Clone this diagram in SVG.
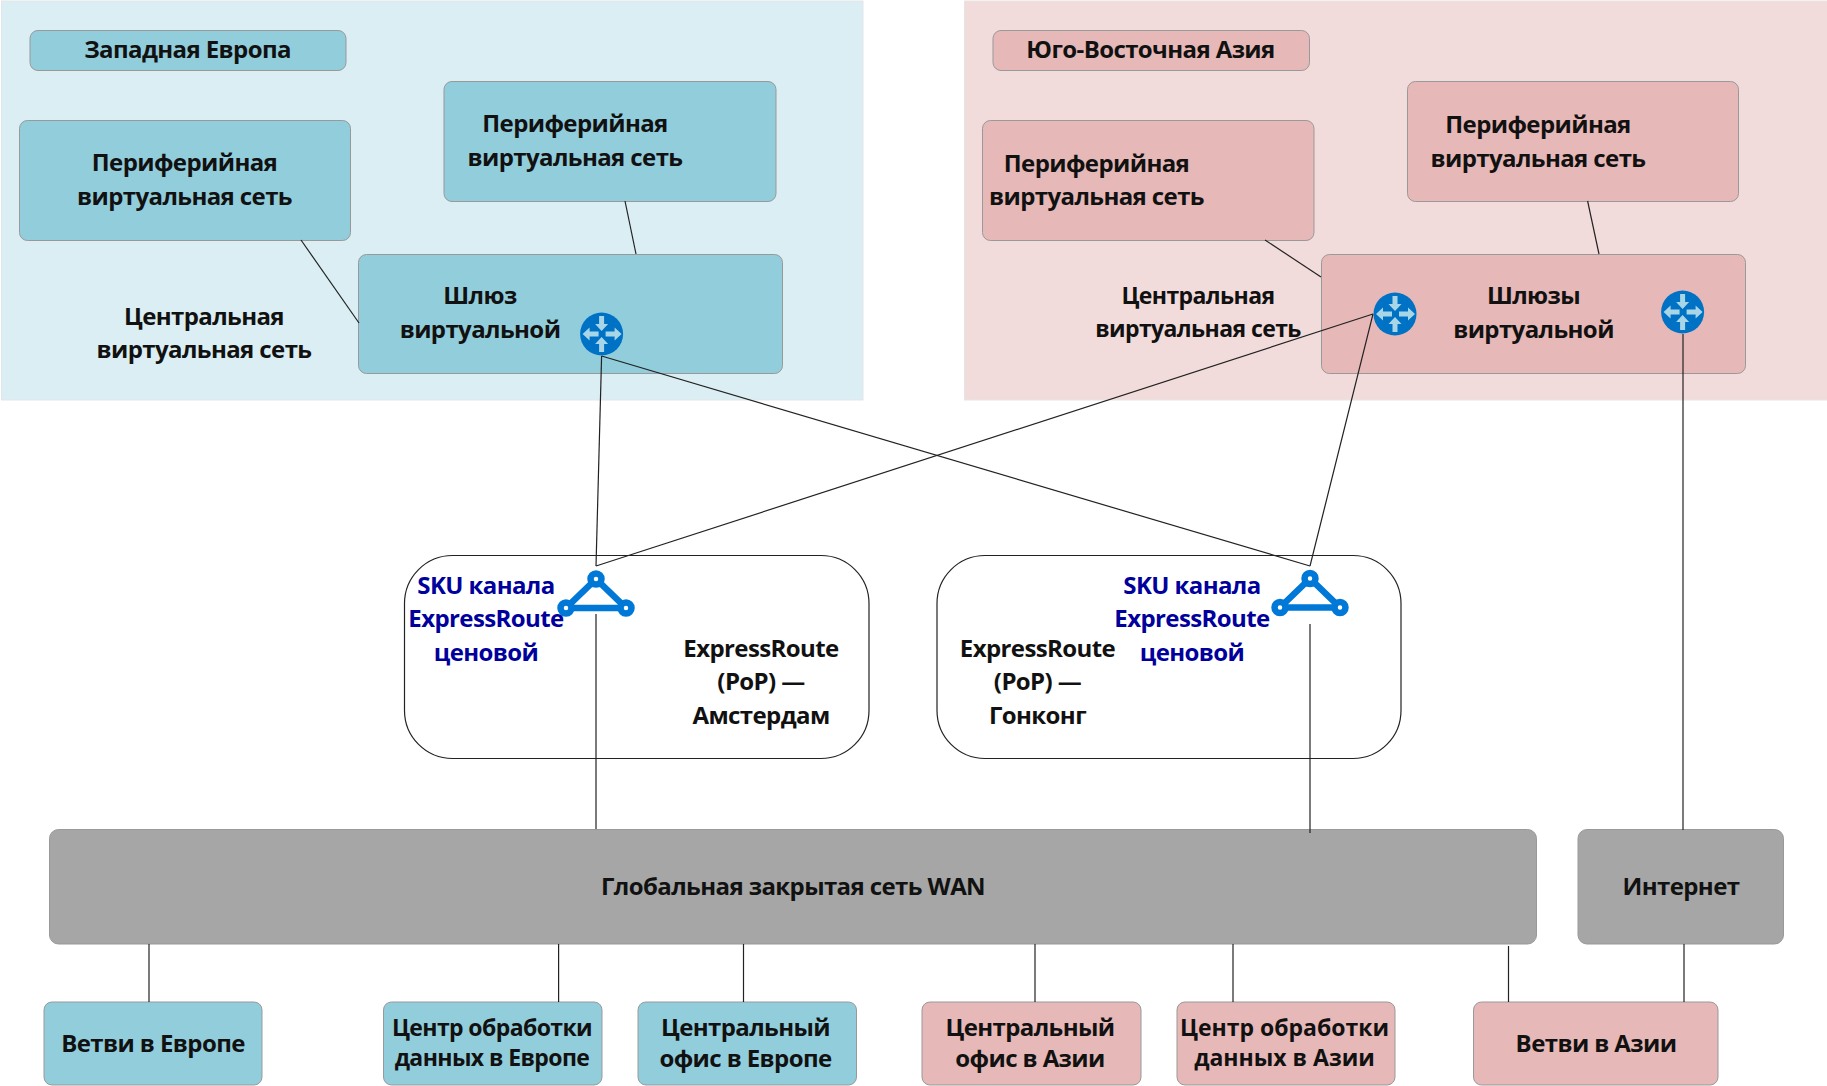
<svg xmlns="http://www.w3.org/2000/svg" width="1827" height="1086" viewBox="0 0 1827 1086">
<style>
text{font-family:"Open Sans","Noto Sans","Liberation Sans",sans-serif;font-weight:700;font-size:24px;letter-spacing:-.6px;fill:#111;text-anchor:middle}
.sm{font-size:23px}
.wide{font-size:23px;letter-spacing:0}
.blue{fill:#00009c;letter-spacing:-.6px}
.panelW{fill:#daeef3;stroke:#e3e6e8;stroke-width:1}
.panelA{fill:#f2dcdb;stroke:#e9e4e4;stroke-width:1}
.t,.p,.g{stroke:#999;stroke-width:1}
.t{fill:#92cddc}
.p{fill:#e6b8b7}
.g{fill:#a6a6a6}
.er{fill:#fff;stroke:#222;stroke-width:1.2}
#conn line{stroke:#222;stroke-width:1.2}
</style>
<defs>
<g id="router">
<circle r="21.5" fill="#0072c6"/>
<path fill="#a9d6e6" d="M-2.500-18h5v8h4L0-3-6.500-10h4zM-2.500 18h5V10h4L0 3-6.500 10h4zM-3-2.500v5H-12v4L-19 0-12-6.500v4zM4-2.500v5h9v4L20 0 13-6.500v4z"/>
</g>
<g id="er-icon" fill="none" stroke="#0078d7">
<path stroke-width="6.500" d="M0 0L-30 29H30Z"/>
<circle r="5.500" fill="#fff" stroke-width="6.500"/>
<circle cx="-30" cy="29" r="5.500" fill="#fff" stroke-width="6.500"/>
<circle cx="30" cy="29" r="5.500" fill="#fff" stroke-width="6.500"/>
</g>
</defs>
<rect class="panelW" x="1.500" y="1" width="861.500" height="399"/>
<rect class="panelA" x="964.500" y="1" width="863" height="399"/>

<g id="title-west"><rect class="t" x="30" y="30.500" width="316" height="40" rx="8"/><text x="187.500" y="58">Западная Европа</text></g>
<g id="spoke-west-1"><rect class="t" x="19.500" y="120.500" width="331" height="120" rx="8"/><text x="184.500" y="171">Периферийная</text><text x="184.500" y="205">виртуальная сеть</text></g>
<g id="spoke-west-2"><rect class="t" x="444" y="81.500" width="332" height="120" rx="8"/><text x="575" y="132">Периферийная</text><text x="575" y="166">виртуальная сеть</text></g>
<g id="hub-west"><rect class="t" x="358.500" y="254.500" width="424" height="119" rx="8"/><text x="480" y="304">Шлюз</text><text x="480" y="338">виртуальной</text><use href="#router" x="601.600" y="334"/></g>
<g id="hub-west-label"><text x="204" y="325">Центральная</text><text x="204" y="358">виртуальная сеть</text></g>

<g id="title-asia"><rect class="p" x="993" y="30.500" width="316.500" height="40" rx="8"/><text x="1150.500" y="58">Юго-Восточная Азия</text></g>
<g id="spoke-asia-1"><rect class="p" x="982.500" y="120.500" width="331.500" height="120" rx="8"/><text x="1096.500" y="172">Периферийная</text><text x="1096.500" y="205">виртуальная сеть</text></g>
<g id="spoke-asia-2"><rect class="p" x="1407.500" y="81.500" width="331" height="120" rx="8"/><text x="1538" y="133">Периферийная</text><text x="1538" y="167">виртуальная сеть</text></g>
<g id="hub-asia"><rect class="p" x="1321.500" y="254.500" width="424" height="119" rx="8"/><text x="1533.500" y="304">Шлюзы</text><text x="1533.500" y="338">виртуальной</text><use href="#router" x="1395" y="314"/><use href="#router" x="1682.600" y="312"/></g>
<g id="hub-asia-label"><text class="sm" x="1198" y="304">Центральная</text><text class="sm" x="1198" y="337">виртуальная сеть</text></g>

<g id="er-amsterdam"><rect class="er" x="404.500" y="555.500" width="464.500" height="203" rx="48"/><use href="#er-icon" x="596" y="579"/><text class="blue" x="486" y="594">SKU канала</text><text class="blue" x="486" y="627">ExpressRoute</text><text class="blue" x="486" y="661">ценовой</text><text x="761" y="657">ExpressRoute</text><text x="761" y="690">(PoP) —</text><text x="761" y="724">Амстердам</text></g>
<g id="er-hongkong"><rect class="er" x="937" y="555.500" width="464" height="203" rx="48"/><use href="#er-icon" x="1310" y="578.500"/><text class="blue" x="1192" y="594">SKU канала</text><text class="blue" x="1192" y="627">ExpressRoute</text><text class="blue" x="1192" y="661">ценовой</text><text x="1037.500" y="657">ExpressRoute</text><text x="1037.500" y="690">(PoP) —</text><text x="1037.500" y="724">Гонконг</text></g>

<g id="wan"><rect class="g" x="49.500" y="829.500" width="1487" height="114.500" rx="9"/><text x="793" y="895">Глобальная закрытая сеть WAN</text></g>
<g id="internet"><rect class="g" x="1578" y="829.500" width="205.500" height="114.500" rx="9"/><text x="1681" y="895">Интернет</text></g>

<g id="branch-eu"><rect class="t" x="44" y="1002" width="218" height="83" rx="8"/><text x="153" y="1052">Ветви в Европе</text></g>
<g id="dc-eu"><rect class="t" x="383.500" y="1002" width="218.500" height="83" rx="8"/><text class="sm" x="492" y="1036">Центр обработки</text><text class="sm" x="492" y="1066">данных в Европе</text></g>
<g id="office-eu"><rect class="t" x="638" y="1002" width="218.500" height="83" rx="8"/><text x="745.500" y="1036">Центральный</text><text x="745.500" y="1067">офис в Европе</text></g>
<g id="office-asia"><rect class="p" x="922" y="1002" width="219" height="83" rx="8"/><text x="1030" y="1036">Центральный</text><text x="1030" y="1067">офис в Азии</text></g>
<g id="dc-asia"><rect class="p" x="1177" y="1002" width="218" height="83" rx="8"/><text class="wide" x="1284.500" y="1036">Центр обработки</text><text class="wide" x="1284.500" y="1066">данных в Азии</text></g>
<g id="branch-asia"><rect class="p" x="1473.500" y="1002" width="244.500" height="83" rx="8"/><text x="1596" y="1052">Ветви в Азии</text></g>

<g id="conn">
<line x1="301" y1="240" x2="359" y2="323"/>
<line x1="625" y1="201" x2="636" y2="254"/>
<line x1="1265" y1="240" x2="1321" y2="277"/>
<line x1="1587.600" y1="201" x2="1599" y2="254"/>
<line x1="601.600" y1="356" x2="596" y2="566"/>
<line x1="601.600" y1="356" x2="1310" y2="566"/>
<line x1="1373" y1="314" x2="596" y2="566"/>
<line x1="1373" y1="314" x2="1310" y2="566"/>
<line x1="1683" y1="334" x2="1683" y2="830"/>
<line x1="596" y1="614" x2="596" y2="829"/>
<line x1="1310" y1="624" x2="1310" y2="833"/>
<line x1="149" y1="944" x2="149" y2="1002"/>
<line x1="558.600" y1="944" x2="558.600" y2="1002"/>
<line x1="743.500" y1="944" x2="743.500" y2="1002"/>
<line x1="1035" y1="944" x2="1035" y2="1002"/>
<line x1="1233" y1="944" x2="1233" y2="1002"/>
<line x1="1508.500" y1="946" x2="1508.500" y2="1002"/>
<line x1="1684" y1="944" x2="1684" y2="1002"/>
</g>
</svg>
